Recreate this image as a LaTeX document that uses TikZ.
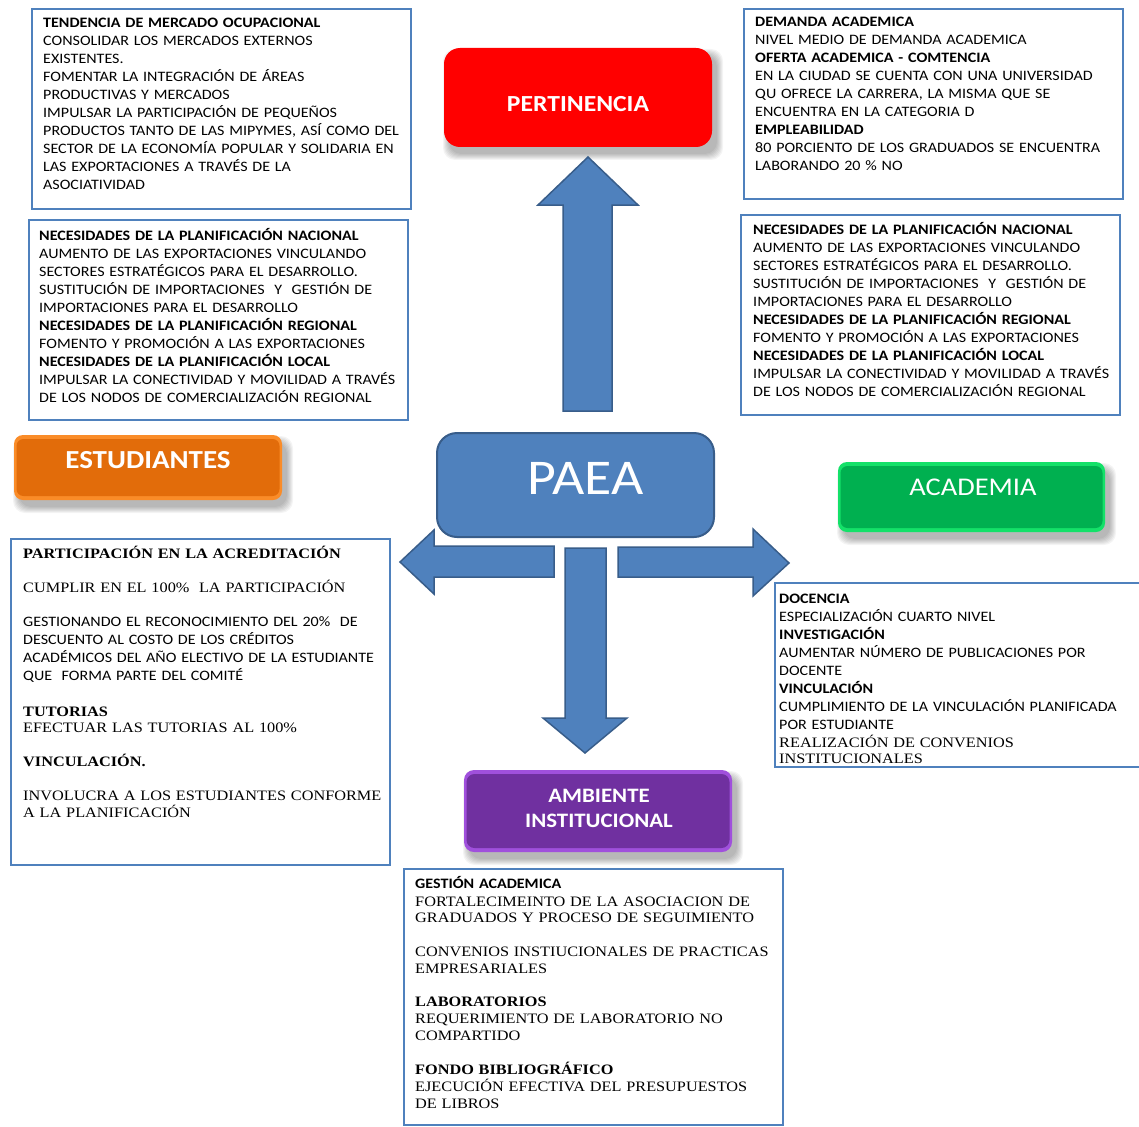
\documentclass[tikz,border=0pt]{standalone}
\usepackage{fontspec}
\setmainfont{Carlito}[FakeStretch=1.115]
\newfontfamily\tnr{Liberation Serif}[FakeStretch=1.13]

\definecolor{boxblue}{RGB}{79,129,189}
\definecolor{arrowfill}{RGB}{79,129,189}
\definecolor{arrowline}{RGB}{56,93,138}
\definecolor{pertred}{RGB}{255,0,0}
\definecolor{estumain}{RGB}{226,108,10}
\definecolor{estulight}{RGB}{250,140,40}
\definecolor{acadmain}{RGB}{0,176,80}
\definecolor{acadlight}{RGB}{20,225,105}
\definecolor{ambmain}{RGB}{112,48,160}
\definecolor{amblight}{RGB}{160,80,220}

\newcommand\bodyfont{\fontsize{14.4}{18}\selectfont}
\newcommand\serifbody{\tnr\fontsize{14.4}{17}\selectfont}

% soft drop shadow behind a button: corners x1 y1 x2 y2
\newcommand\softshadow[4]{%
  \foreach \k in {0,...,6}{%
    \fill[black,opacity=0.045,rounded corners=12pt]
      (#1+5-\k,#2+7-\k) rectangle (#3+5+\k,#4+7+\k);}}

\tikzset{
  infobox/.style={draw=boxblue, line width=2pt, fill=white, rectangle,
    anchor=north west, outer sep=0pt, inner sep=0pt},
  txt/.style={anchor=base west, inner sep=0pt, text width=400pt, align=left,
    font=\bodyfont},
  stxt/.style={txt, font=\serifbody},
  btn/.style={rectangle, anchor=north west, outer sep=0pt, inner sep=0pt},
  btnlabel/.style={text=white, inner sep=0pt, align=center},
  bigarrow/.style={fill=arrowfill, draw=arrowline, line width=1.5pt, line join=miter},
}

\begin{document}
\begin{tikzpicture}[x=1pt,y=-1pt]
\clip (0,0) rectangle (1139,1126);
\fill[white] (0,0) rectangle (1139,1126);

% ---------- information boxes ----------
\node[infobox, minimum width=379pt, minimum height=200pt] (tendbox) at (32,9) {};
\node[txt] (tendtxt) at (43,27.5) {%
\textbf{TENDENCIA DE MERCADO OCUPACIONAL}\\
CONSOLIDAR LOS MERCADOS EXTERNOS\\
EXISTENTES.\\
FOMENTAR LA INTEGRACIÓN DE ÁREAS\\
PRODUCTIVAS Y MERCADOS\\
IMPULSAR LA PARTICIPACIÓN DE PEQUEÑOS\\
PRODUCTOS TANTO DE LAS MIPYMES, ASÍ COMO DEL\\
SECTOR DE LA ECONOMÍA POPULAR Y SOLIDARIA EN\\
LAS EXPORTACIONES A TRAVÉS DE LA\\
ASOCIATIVIDAD};

\node[infobox, minimum width=379pt, minimum height=190pt] (demandbox) at (744,9) {};
\node[txt] (demandtxt) at (755,27) {%
\textbf{DEMANDA ACADEMICA}\\
NIVEL MEDIO DE DEMANDA ACADEMICA\\
\textbf{OFERTA ACADEMICA - COMTENCIA}\\
EN LA CIUDAD SE CUENTA CON UNA UNIVERSIDAD\\
QU OFRECE LA CARRERA, LA MISMA QUE SE\\
ENCUENTRA EN LA CATEGORIA D\\
\textbf{EMPLEABILIDAD}\\
80 PORCIENTO DE LOS GRADUADOS SE ENCUENTRA\\
LABORANDO 20 \% NO};

\newcommand\planif{%
\textbf{NECESIDADES DE LA PLANIFICACIÓN NACIONAL}\\
AUMENTO DE LAS EXPORTACIONES VINCULANDO\\
SECTORES ESTRATÉGICOS PARA EL DESARROLLO.\\
SUSTITUCIÓN DE IMPORTACIONES\ \ Y\ \ GESTIÓN DE\\
IMPORTACIONES PARA EL DESARROLLO\\
\textbf{NECESIDADES DE LA PLANIFICACIÓN REGIONAL}\\
FOMENTO Y PROMOCIÓN A LAS EXPORTACIONES\\
\textbf{NECESIDADES DE LA PLANIFICACIÓN LOCAL}\\
IMPULSAR LA CONECTIVIDAD Y MOVILIDAD A TRAVÉS\\
DE LOS NODOS DE COMERCIALIZACIÓN REGIONAL}

\node[infobox, minimum width=379pt, minimum height=200pt] (planleftbox) at (29,220) {};
\node[txt] (planlefttxt) at (39,240) {\planif};

\node[infobox, minimum width=379pt, minimum height=200pt] (planrightbox) at (741,215) {};
\node[txt] (planrighttxt) at (753,234) {\planif};

\node[infobox, minimum width=379pt, minimum height=326pt] (estubox) at (11,539) {};
\node[stxt] (estu1) at (23,558) {\textbf{PARTICIPACIÓN EN LA ACREDITACIÓN}};
\node[stxt] (estu2) at (23,592) {CUMPLIR EN EL 100\%\ \ LA PARTICIPACIÓN};
\node[txt] (estu3) at (23,626) {%
GESTIONANDO EL RECONOCIMIENTO DEL 20\%\ \ DE\\
DESCUENTO AL COSTO DE LOS CRÉDITOS\\
ACADÉMICOS DEL AÑO ELECTIVO DE LA ESTUDIANTE\\
QUE\ \ FORMA PARTE DEL COMITÉ};
\node[stxt, font=\tnr\fontsize{14.4}{16.5}\selectfont] (estu4) at (23,716) {%
\textbf{TUTORIAS}\\
EFECTUAR LAS TUTORIAS AL 100\%};
\node[stxt] (estu5) at (23,766) {\textbf{VINCULACIÓN.}};
\node[stxt] (estu6) at (23,800) {%
INVOLUCRA A LOS ESTUDIANTES CONFORME\\
A LA PLANIFICACIÓN};

\node[infobox, minimum width=390pt, minimum height=184pt] (acadbox) at (775,583) {};
\node[txt] (acadtxt) at (779,603) {%
\textbf{DOCENCIA}\\
ESPECIALIZACIÓN CUARTO NIVEL\\
\textbf{INVESTIGACIÓN}\\
AUMENTAR NÚMERO DE PUBLICACIONES POR\\
DOCENTE\\
\textbf{VINCULACIÓN}\\
CUMPLIMIENTO DE LA VINCULACIÓN PLANIFICADA\\
POR ESTUDIANTE};
\node[stxt, font=\tnr\fontsize{14.4}{16}\selectfont] (acadtxt2) at (779,747) {%
REALIZACIÓN DE CONVENIOS\\
INSTITUCIONALES};

\node[infobox, minimum width=379pt, minimum height=256pt] (ambbox) at (404,869) {};
\node[txt] (amb1) at (415,888) {\textbf{GESTIÓN ACADEMICA}};
\node[stxt, font=\tnr\fontsize{14.4}{16.5}\selectfont] (amb2) at (415,906) {%
FORTALECIMEINTO DE LA ASOCIACION DE\\
GRADUADOS Y PROCESO DE SEGUIMIENTO};
\node[stxt] (amb3) at (415,956) {%
CONVENIOS INSTIUCIONALES DE PRACTICAS\\
EMPRESARIALES};
\node[stxt] (amb4) at (415,1006) {%
\textbf{LABORATORIOS}\\
REQUERIMIENTO DE LABORATORIO NO\\
COMPARTIDO};
\node[stxt] (amb5) at (415,1074) {%
\textbf{FONDO BIBLIOGRÁFICO}\\
EJECUCIÓN EFECTIVA DEL PRESUPUESTOS\\
DE LIBROS};

% ---------- coloured buttons ----------
\softshadow{444}{48}{712}{147}
\node[btn, fill=pertred, rounded corners=16pt, minimum width=268pt, minimum height=99pt] (pert) at (444,48) {};
\node[btnlabel, font=\fontsize{23}{26}\selectfont\bfseries] (pertlbl) at (578,104) {PERTINENCIA};

\softshadow{14}{435}{282}{500}
\node[btn, fill=estulight, rounded corners=9pt, minimum width=268pt, minimum height=65pt] (estu) at (14,435) {};
\fill[estumain, rounded corners=7pt] ([shift={(2.5pt,-4pt)}]estu.north west) rectangle ([shift={(-2.5pt,4pt)}]estu.south east);
\node[btnlabel, font=\fontsize{26}{28}\selectfont\bfseries] (estulbl) at (148,460) {ESTUDIANTES};

\softshadow{838}{462}{1105}{532}
\node[btn, fill=acadlight, rounded corners=9pt, minimum width=267pt, minimum height=70pt] (acad) at (838,462) {};
\fill[acadmain, rounded corners=7pt] ([shift={(2.5pt,-4pt)}]acad.north west) rectangle ([shift={(-2.5pt,4pt)}]acad.south east);
\node[btnlabel, font=\fontsize{25.5}{28}\selectfont] (acadlbl) at (973,487.5) {ACADEMIA};

\softshadow{464}{770}{732}{852}
\node[btn, fill=amblight, rounded corners=10pt, minimum width=268pt, minimum height=82pt] (amb) at (464,770) {};
\fill[ambmain, rounded corners=8pt] ([shift={(2.5pt,-4pt)}]amb.north west) rectangle ([shift={(-2.5pt,4pt)}]amb.south east);
\node[btnlabel, font=\fontsize{20.5}{25}\selectfont\bfseries] (amblbl) at (599,808) {AMBIENTE\\INSTITUCIONAL};

% ---------- central node ----------
\node[btn, fill=arrowfill, draw=arrowline, line width=2pt, rounded corners=20pt,
      minimum width=277pt, minimum height=104pt] (paea) at (437,433) {};
\node[btnlabel, font=\fontsize{50}{56}\selectfont] (paealbl) at (585.5,478) {PAEA};

% ---------- block arrows out of the central node ----------
\draw[bigarrow] (563,411) -- (563,205) -- (538,205) -- (588,157) -- (638,205) -- (612,205) -- (612,411) -- cycle;
\draw[bigarrow] (554,546) -- (434,546) -- (434,530) -- (400,562) -- (434,594) -- (434,577) -- (554,577) -- cycle;
\draw[bigarrow] (618,547) -- (753,547) -- (753,529) -- (789,563) -- (753,596) -- (753,577) -- (618,577) -- cycle;
\draw[bigarrow] (565,548) -- (606,548) -- (606,718) -- (627,718) -- (585,753) -- (543,718) -- (565,718) -- cycle;
\end{tikzpicture}
\end{document}
